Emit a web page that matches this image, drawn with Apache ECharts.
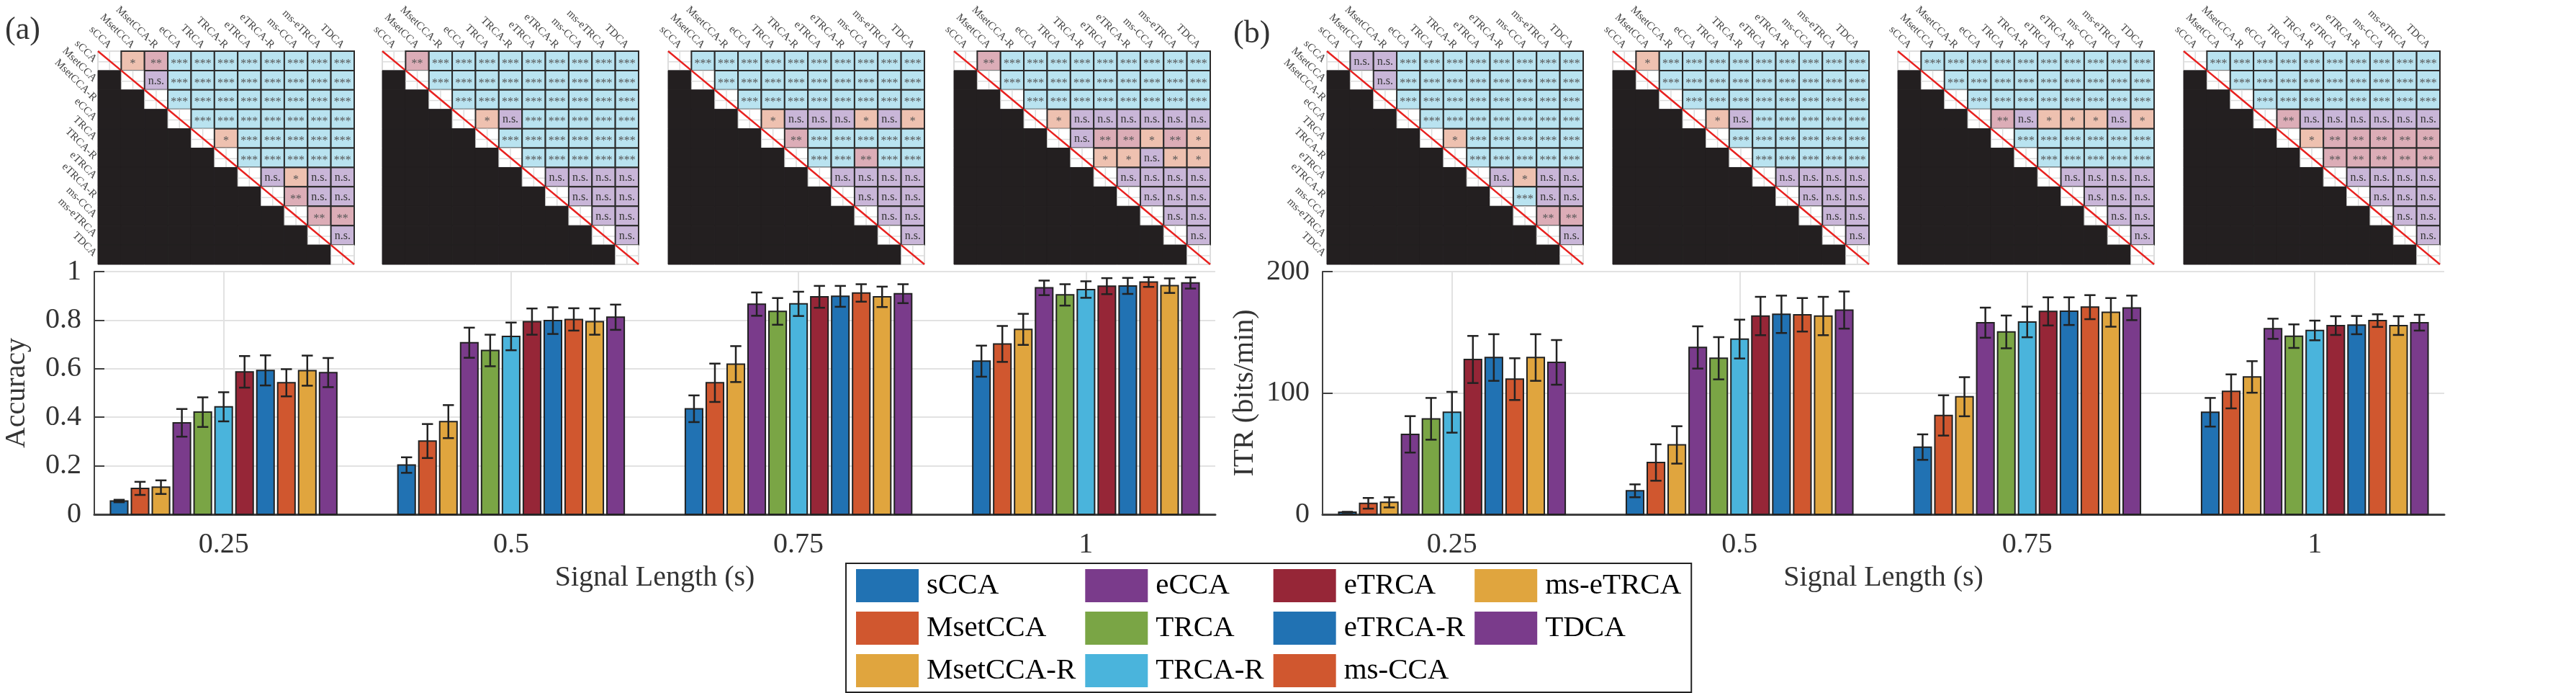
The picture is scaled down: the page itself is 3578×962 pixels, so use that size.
<!DOCTYPE html>
<html>
<head>
<meta charset="utf-8">
<title>Accuracy / ITR</title>
<script src="https://cdn.jsdelivr.net/npm/echarts@6.0.0/dist/echarts.min.js"></script>
<style>
html, body { margin: 0; padding: 0; background: #fff; }
#chart { width: 3578px; height: 962px; }
</style>
</head>
<body>
<div id="chart"></div>
<script>
const methods = ['sCCA', 'MsetCCA', 'MsetCCA-R', 'eCCA', 'TRCA', 'TRCA-R', 'eTRCA', 'eTRCA-R', 'ms-CCA', 'ms-eTRCA', 'TDCA']
const lengths = ['0.25', '0.5', '0.75', '1']
const colors = ['#2172b3', '#d0572f', '#e0a53e', '#7a3b8b', '#7aa545', '#4ab4dc', '#962637', '#2172b3', '#d0572f', '#e0a53e', '#7a3b8b']

// 准确率 均值 / 误差，每行一个信号长度
const accMean = [
  [0.055, 0.107, 0.112, 0.377, 0.421, 0.443, 0.587, 0.593, 0.542, 0.592, 0.584],
  [0.203, 0.302, 0.382, 0.707, 0.675, 0.733, 0.794, 0.798, 0.803, 0.794, 0.812],
  [0.435, 0.542, 0.619, 0.866, 0.836, 0.867, 0.896, 0.898, 0.912, 0.896, 0.909],
  [0.631, 0.702, 0.762, 0.933, 0.904, 0.926, 0.940, 0.941, 0.957, 0.942, 0.953]
]
const accErr = [
  [0.005, 0.027, 0.028, 0.057, 0.061, 0.060, 0.065, 0.062, 0.056, 0.062, 0.060],
  [0.032, 0.070, 0.068, 0.062, 0.065, 0.057, 0.054, 0.055, 0.046, 0.054, 0.052],
  [0.055, 0.079, 0.074, 0.048, 0.055, 0.050, 0.045, 0.043, 0.036, 0.042, 0.039],
  [0.064, 0.074, 0.064, 0.030, 0.044, 0.034, 0.033, 0.033, 0.020, 0.030, 0.023]
]
// ITR (bits/min)
const itrMean = [
  [1.8, 9.1, 9.9, 65.9, 78.7, 84.1, 127.6, 129.2, 111.4, 129.2, 125.2],
  [19.4, 42.7, 57.2, 137.5, 128.6, 144.4, 163.4, 164.8, 164.4, 163.4, 168.3],
  [55.4, 81.5, 96.9, 157.9, 150.3, 158.5, 167.2, 167.4, 170.7, 166.4, 170.1],
  [84.1, 101.3, 113.2, 152.9, 146.8, 151.5, 155.5, 155.9, 159.6, 155.5, 157.9]
]
const itrErr = [
  [0.3, 4.4, 4.2, 15.0, 17.2, 16.8, 19.4, 19.2, 17.2, 19.2, 18.4],
  [5.3, 15.0, 15.4, 17.4, 17.4, 16.0, 15.8, 15.4, 13.8, 15.8, 15.3],
  [10.5, 16.6, 16.1, 12.4, 13.5, 12.6, 11.6, 11.4, 9.9, 11.8, 10.1],
  [11.8, 14.0, 13.0, 8.3, 9.7, 8.1, 7.7, 7.5, 5.2, 7.7, 6.5]
]

// 显著性矩阵（上三角）：3=***, 2=**, 1=*, 0=n.s.
const sigAcc025 = ['1233333333', '033333333', '33333333', '3333333', '133333', '33333', '0100', '200', '22', '0']
const sigAcc050 = ['2333333333', '333333333', '33333333', '1033333', '333333', '33333', '0000', '000', '00', '0']
const sigAcc075 = ['3333333333', '333333333', '33333333', '1000101', '233333', '33233', '0000', '000', '00', '0']
const sigAcc100 = ['2333333333', '333333333', '33333333', '1000000', '022121', '11011', '0000', '000', '00', '0']
const sigItr025 = ['0033333333', '033333333', '33333333', '3333333', '133333', '33333', '0100', '300', '22', '0']
const sigItr050 = ['1333333333', '333333333', '33333333', '1033333', '333333', '33333', '0000', '000', '00', '0']
const sigItr075 = ['3333333333', '333333333', '33333333', '2011101', '333333', '33333', '0000', '000', '00', '0']
const sigItr100 = ['3333333333', '333333333', '33333333', '2000000', '122222', '22222', '0000', '000', '00', '0']

const sigTables = [sigAcc025, sigAcc050, sigAcc075, sigAcc100, sigItr025, sigItr050, sigItr075, sigItr100]
const sigText = ['n.s.', '*', '**', '***']
const sigColor = ['#c9b6d8', '#eec1b0', '#dcadb7', '#b9e3f0']

const font = 'Liberation Serif'
const matLeft = [136, 531, 928, 1325, 1843, 2240, 2636, 3033]
const pitch = 0.8 / 11

const myChart = echarts.init(document.getElementById('chart'))

// 柱子 + 误差线
const barRender = (k) => (params, api) => {
  const x = api.value(0) + (k - 5) * pitch
  const m = api.value(1)
  const e = api.value(2)
  const bw = pitch * 0.83
  const tl = api.coord([x - bw / 2, m])
  const br = api.coord([x + bw / 2, 0])
  const cx = api.coord([x, 0])[0]
  const yTop = api.coord([x, m + e])[1]
  const yBot = api.coord([x, m - e])[1]
  const cap = (br[0] - tl[0]) * 0.32
  const ls = { stroke: '#222', lineWidth: 2.5 }
  return {
    type: 'group',
    children: [
      { type: 'rect', shape: { x: tl[0], y: tl[1], width: br[0] - tl[0], height: br[1] - tl[1] }, style: { fill: colors[k], stroke: '#222', lineWidth: 2 } },
      { type: 'line', shape: { x1: cx, y1: yTop, x2: cx, y2: yBot }, style: ls },
      { type: 'line', shape: { x1: cx - cap, y1: yTop, x2: cx + cap, y2: yTop }, style: ls },
      { type: 'line', shape: { x1: cx - cap, y1: yBot, x2: cx + cap, y2: yBot }, style: ls }
    ]
  }
}

// 矩阵单元格
const cellRender = (params, api) => {
  const c = api.value(0)
  const r = api.value(1)
  const lv = api.value(2)
  const p = api.coord([c, r])
  const s = api.size([1, 1])
  const x0 = p[0] - s[0] / 2
  const y0 = p[1] - s[1] / 2
  if (lv === -1) {
    return { type: 'rect', shape: { x: x0, y: y0, width: s[0], height: s[1] }, style: { fill: '#231f20', stroke: '#231f20', lineWidth: 1 } }
  }
  if (lv === -2) {
    return {
      type: 'group',
      children: [
        { type: 'rect', shape: { x: x0, y: y0, width: s[0], height: s[1] }, style: { fill: '#fff', stroke: '#bbb', lineWidth: 1 } },
        { type: 'line', shape: { x1: p[0], y1: y0, x2: p[0], y2: y0 + s[1] }, style: { stroke: '#ddd', lineWidth: 1.5 } },
        { type: 'line', shape: { x1: x0, y1: y0 + s[1] * 0.55, x2: x0 + s[0], y2: y0 + s[1] * 0.55 }, style: { stroke: '#ddd', lineWidth: 1.5 } },
        { type: 'line', shape: { x1: x0, y1: y0, x2: x0 + s[0], y2: y0 + s[1] }, style: { stroke: '#e8211f', lineWidth: 2.5 } }
      ]
    }
  }
  return {
    type: 'group',
    children: [
      { type: 'rect', shape: { x: x0, y: y0, width: s[0], height: s[1] }, style: { fill: sigColor[lv], stroke: '#2b2b2b', lineWidth: 2 } },
      {
        type: 'text',
        x: p[0],
        y: p[1] + (lv === 0 ? 1 : 4),
        style: { text: sigText[lv], fill: lv === 0 ? '#333' : '#555', font: '16px ' + font, align: 'center', verticalAlign: 'middle' }
      }
    ]
  }
}

const grid = [
  { left: 131, top: 377, width: 1557, height: 337 },
  { left: 1837, top: 377, width: 1558, height: 337 }
]
const xAxis = []
const yAxis = []
const series = []

// 两个柱状图
const plots = [
  { mean: accMean, err: accErr, name: 'Accuracy', max: 1, interval: 0.2 },
  { mean: itrMean, err: itrErr, name: 'ITR (bits/min)', max: 200, interval: 100 }
]
plots.forEach((pl, g) => {
  xAxis.push({
    type: 'value',
    gridIndex: g,
    min: 0.55,
    max: 4.45,
    axisLine: { show: true, onZero: false, lineStyle: { color: '#404040', width: 3 } },
    axisTick: { show: false, customValues: [1, 2, 3, 4] },
    axisLabel: { customValues: [1, 2, 3, 4], formatter: v => lengths[Math.round(v) - 1], fontSize: 40, fontFamily: font, color: '#333', margin: 22 },
    splitLine: { show: true, lineStyle: { color: '#e2e2e2', width: 2 } },
    name: 'Signal Length (s)',
    nameLocation: 'middle',
    nameGap: 68,
    nameTextStyle: { fontSize: 40, fontFamily: font, color: '#333' }
  })
  yAxis.push({
    type: 'value',
    gridIndex: g,
    min: 0,
    max: pl.max,
    interval: pl.interval,
    axisLine: { show: true, lineStyle: { color: '#404040', width: 2 } },
    axisTick: { show: true, inside: true, length: 14, lineStyle: { color: '#404040', width: 2 } },
    axisLabel: { fontSize: 40, fontFamily: font, color: '#333', margin: 18 },
    splitLine: { show: true, lineStyle: { color: '#e2e2e2', width: 2 } },
    name: pl.name,
    nameLocation: 'middle',
    nameGap: 88,
    nameTextStyle: { fontSize: 40, fontFamily: font, color: '#333' }
  })
  methods.forEach((m, k) => {
    series.push({
      type: 'custom',
      name: m,
      xAxisIndex: g,
      yAxisIndex: g,
      itemStyle: { color: colors[k] },
      clip: false,
      renderItem: barRender(k),
      data: lengths.map((l, i) => [i + 1, pl.mean[i][k], pl.err[i][k]])
    })
  })
})

// 显著性矩阵
sigTables.forEach((sig, j) => {
  const gi = 2 + j
  grid.push({ left: matLeft[j], top: 71, width: 356, height: 296 })
  xAxis.push({
    type: 'category',
    gridIndex: gi,
    data: methods,
    position: 'top',
    axisLine: { show: false },
    axisTick: { show: false },
    splitLine: { show: false },
    axisLabel: { rotate: 45, interval: 0, fontSize: 15, fontFamily: font, color: '#444', margin: 6 }
  })
  yAxis.push({
    type: 'category',
    gridIndex: gi,
    data: methods,
    inverse: true,
    axisLine: { show: false },
    axisTick: { show: false },
    splitLine: { show: false },
    axisLabel: { show: j === 0 || j === 4, rotate: -45, interval: 0, fontSize: 15, fontFamily: font, color: '#444', margin: 4 }
  })
  const cells = []
  for (let r = 0; r < 11; r++) {
    for (let c = 0; c < 11; c++) {
      const lv = c < r ? -1 : (c === r ? -2 : Number(sig[r][c - r - 1]))
      cells.push([c, r, lv])
    }
  }
  series.push({
    type: 'custom',
    xAxisIndex: gi,
    yAxisIndex: gi,
    renderItem: cellRender,
    data: cells,
    silent: true
  })
})

const options = {
  animation: false,
  backgroundColor: '#fff',
  grid,
  xAxis,
  yAxis,
  series,
  legend: {
    orient: 'vertical',
    left: 1175,
    top: 782,
    height: 168,
    data: methods.map((m, i) => ({ name: m, itemStyle: { color: colors[i] } })),
    icon: 'rect',
    itemWidth: 87,
    itemHeight: 46,
    itemGap: 13,
    padding: [8, 14, 7, 14],
    borderColor: '#222',
    borderWidth: 2,
    selectedMode: false,
    textStyle: { fontSize: 41, fontFamily: font, color: '#000', padding: [0, 0, 0, 6] }
  },
  graphic: [
    { type: 'text', left: 7, top: 20, style: { text: '(a)', font: '44px ' + font, fill: '#333' } },
    { type: 'text', left: 1713, top: 25, style: { text: '(b)', font: '44px ' + font, fill: '#333' } }
  ]
}
myChart.setOption(options)
</script>
</body>
</html>
